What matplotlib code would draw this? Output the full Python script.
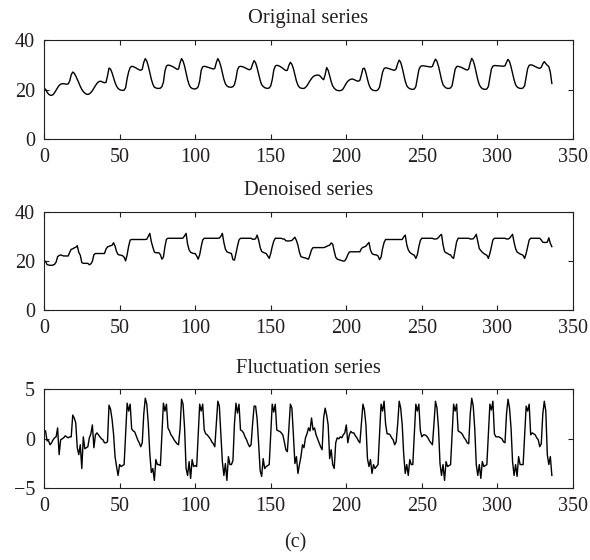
import numpy as np
import matplotlib
matplotlib.use('Agg')
import matplotlib.pyplot as plt

plt.rcParams['font.family'] = ['Liberation Serif', 'DejaVu Serif']

# hourly values, one row per day (14 days x 24 h)
original_days = [
    [20.2, 19.0, 18.2, 17.8, 17.7, 18.0, 18.8, 19.8, 20.8, 21.7, 22.2, 22.4, 22.4, 22.3, 22.2, 22.3, 23.5, 26.0, 27.1, 26.6, 25.5, 24.2, 22.8, 21.3],
    [20.1, 19.2, 18.6, 18.2, 18.1, 18.3, 18.8, 19.6, 20.6, 21.6, 22.5, 23.1, 23.4, 23.3, 23.0, 22.8, 22.9, 25.5, 28.7, 28.3, 26.8, 24.8, 22.9, 21.4],
    [20.5, 20.0, 19.8, 19.7, 19.8, 20.8, 24.5, 27.2, 28.9, 29.4, 29.3, 29.0, 28.7, 28.3, 28.0, 27.8, 28.2, 31.0, 32.5, 31.5, 29.5, 26.8, 24.2, 22.2],
    [21.0, 20.7, 20.5, 20.5, 20.6, 21.2, 23.0, 27.5, 29.5, 29.9, 29.8, 29.6, 29.3, 29.0, 28.6, 28.2, 28.3, 30.8, 32.5, 31.5, 29.5, 26.8, 24.0, 22.0],
    [20.9, 20.5, 20.3, 20.3, 20.5, 21.2, 23.5, 27.8, 29.2, 29.4, 29.3, 29.1, 28.9, 28.7, 28.5, 28.3, 28.6, 30.9, 32.5, 31.4, 29.4, 26.8, 24.2, 22.4],
    [21.5, 21.1, 21.0, 21.0, 21.2, 22.0, 24.5, 28.0, 29.2, 29.4, 29.3, 29.1, 28.8, 28.5, 28.2, 28.0, 28.4, 30.3, 31.7, 30.8, 28.8, 26.3, 23.8, 22.0],
    [21.3, 20.8, 20.6, 20.5, 20.7, 21.5, 24.0, 27.8, 29.5, 29.8, 29.7, 29.4, 29.0, 28.6, 28.1, 27.7, 27.8, 29.8, 31.0, 30.2, 28.5, 26.0, 23.5, 21.8],
    [20.9, 20.6, 20.5, 20.5, 20.9, 21.6, 22.6, 23.6, 24.5, 25.2, 25.6, 25.8, 25.9, 25.8, 25.3, 24.5, 24.0, 26.0, 28.9, 27.8, 25.6, 23.2, 21.5, 20.6],
    [20.0, 19.7, 19.6, 19.6, 19.8, 20.4, 21.5, 22.6, 23.4, 23.9, 24.2, 24.3, 24.1, 23.8, 23.5, 23.4, 23.8, 26.0, 28.5, 28.6, 26.8, 24.2, 22.0, 20.6],
    [20.0, 19.7, 19.6, 19.6, 20.0, 21.0, 24.0, 27.0, 28.5, 28.8, 28.7, 28.5, 28.3, 28.1, 27.9, 27.8, 28.4, 30.5, 31.9, 31.0, 28.8, 26.0, 23.4, 21.6],
    [20.8, 20.4, 20.2, 20.1, 20.3, 21.2, 24.5, 28.0, 29.3, 29.6, 29.6, 29.5, 29.4, 29.3, 29.2, 29.1, 29.4, 31.0, 32.3, 31.4, 29.4, 26.8, 24.0, 22.0],
    [21.2, 20.7, 20.5, 20.5, 20.7, 21.6, 24.8, 28.2, 29.3, 29.4, 29.2, 29.0, 28.7, 28.4, 28.1, 27.9, 28.3, 30.8, 32.6, 31.6, 29.5, 26.8, 24.0, 22.0],
    [21.0, 20.4, 20.2, 20.1, 20.3, 21.3, 24.8, 28.3, 29.5, 29.7, 29.7, 29.6, 29.6, 29.5, 29.5, 29.4, 29.6, 31.0, 32.2, 31.3, 29.2, 26.6, 24.0, 22.0],
    [21.1, 20.7, 20.5, 20.5, 20.7, 21.6, 25.0, 28.5, 29.8, 30.0, 29.9, 29.6, 29.3, 29.0, 28.7, 28.6, 29.0, 30.4, 31.3, 30.5, 29.8, 29.3, 27.0, 22.5],
]

denoised_days = [
    [19.8, 18.5, 18.3, 18.2, 18.2, 18.3, 18.6, 19.5, 21.7, 22.2, 22.4, 22.2, 22.0, 22.0, 22.0, 22.0, 23.5, 24.7, 24.9, 25.3, 25.5, 26.2, 23.5, 22.3],
    [19.3, 19.0, 19.0, 19.0, 19.0, 18.4, 18.8, 19.8, 22.5, 23.0, 23.0, 23.0, 23.0, 23.0, 23.0, 23.0, 24.8, 25.7, 25.9, 26.2, 26.3, 27.4, 26.0, 23.8],
    [22.6, 22.4, 22.3, 22.1, 21.5, 20.0, 22.5, 26.0, 28.5, 28.7, 28.7, 28.7, 28.7, 28.7, 28.7, 28.7, 28.7, 28.7, 28.7, 28.8, 30.0, 31.2, 27.8, 25.6],
    [23.6, 23.3, 23.3, 23.3, 22.5, 20.7, 21.5, 25.8, 28.8, 29.2, 29.2, 29.2, 29.2, 29.2, 29.2, 29.2, 29.2, 29.2, 29.2, 29.3, 30.2, 31.2, 26.8, 24.5],
    [23.5, 23.2, 23.0, 23.0, 22.0, 20.7, 22.5, 25.8, 28.5, 29.2, 29.2, 29.2, 29.2, 29.2, 29.2, 29.2, 29.2, 29.2, 29.2, 29.3, 30.0, 31.2, 27.5, 24.8],
    [23.7, 23.4, 23.2, 23.0, 20.5, 20.3, 23.0, 26.0, 28.5, 29.2, 29.2, 29.2, 29.2, 29.2, 29.2, 29.2, 29.2, 28.8, 28.8, 29.0, 30.5, 28.5, 25.5, 23.8],
    [23.5, 23.2, 23.0, 22.0, 21.0, 23.0, 25.8, 28.0, 29.2, 29.2, 29.2, 29.2, 29.2, 28.9, 28.9, 28.2, 28.1, 28.1, 28.2, 28.3, 29.0, 29.6, 28.3, 26.4],
    [23.5, 21.7, 21.5, 21.3, 21.2, 20.9, 20.7, 22.5, 24.5, 25.4, 25.4, 25.4, 25.4, 25.4, 25.4, 25.4, 25.4, 25.6, 25.9, 26.2, 26.4, 27.3, 26.8, 24.0],
    [21.5, 20.7, 20.5, 20.3, 20.1, 19.9, 20.0, 21.0, 22.5, 23.6, 23.7, 23.7, 23.7, 23.7, 23.7, 23.7, 23.7, 25.0, 25.5, 25.7, 26.0, 26.8, 27.5, 24.4],
    [23.0, 22.6, 22.5, 22.4, 22.0, 20.5, 21.5, 25.0, 27.5, 28.7, 28.7, 28.7, 28.7, 28.7, 28.7, 28.7, 28.7, 28.7, 28.7, 28.7, 28.7, 29.8, 30.5, 26.6],
    [24.5, 23.5, 23.0, 22.6, 22.3, 21.0, 22.5, 25.8, 28.3, 29.2, 29.2, 29.2, 29.2, 29.2, 29.2, 29.2, 29.2, 28.9, 28.9, 29.0, 29.5, 30.3, 30.8, 26.6],
    [23.8, 23.3, 23.0, 22.6, 22.4, 21.5, 21.0, 24.5, 27.8, 29.2, 29.2, 29.2, 29.2, 29.2, 29.2, 29.2, 29.2, 28.9, 28.9, 29.0, 29.8, 30.8, 27.8, 25.0],
    [24.2, 23.5, 23.0, 22.6, 22.3, 21.0, 23.0, 25.8, 28.5, 29.2, 29.2, 29.2, 29.2, 29.2, 29.2, 29.2, 29.2, 28.9, 28.9, 29.2, 30.0, 30.8, 27.6, 25.0],
    [23.6, 23.2, 22.8, 22.6, 22.2, 21.0, 23.0, 25.8, 28.5, 29.2, 29.2, 29.2, 29.2, 29.2, 29.2, 29.2, 28.5, 27.6, 27.5, 27.5, 27.6, 29.4, 27.1, 25.8],
]

fluctuation_days = [
    [0.8, -0.2, -0.2, -0.6, -0.4, -0.1, 0.1, 0.2, 1.1, -1.6, -0.1, 0.0, 0.1, 0.3, 0.2, 0.1, 0.2, 0.2, 2.4, 2.1, 1.6, -0.9, -1.6, -0.6],
    [-3.0, 0.2, -1.0, -0.9, -0.8, 0.1, 0.5, 1.4, -0.9, 0.4, 0.6, 0.4, 0.2, 0.0, -0.1, -0.4, -0.4, -0.3, 3.4, 3.0, 2.0, 0.5, -1.8, -2.8],
    [-3.7, -2.6, -2.8, -2.7, -2.6, 0.4, 3.6, 2.8, 3.5, 1.0, 0.8, 0.7, 0.3, -0.1, -0.4, -0.8, -0.4, 2.5, 4.1, 3.5, 1.5, -1.5, -3.4, -3.0],
    [-4.2, -2.1, -2.6, -2.6, -2.7, 0.4, 3.6, 2.8, 3.5, 1.1, 0.8, 0.4, 0.2, -0.1, -0.3, -0.5, -0.6, 1.0, 4.0, 3.5, 1.1, -3.0, -3.7, -2.3],
    [-4.0, -2.1, -2.8, -2.7, -2.8, 0.4, 3.5, 2.8, 3.5, 0.9, 0.5, 0.4, 0.2, 0.0, -0.3, -0.5, -0.8, 1.5, 3.8, 3.3, 0.5, -2.3, -3.7, -2.5],
    [-4.2, -1.8, -2.6, -2.6, -2.2, 1.5, 3.6, 2.6, 3.5, 0.9, 0.8, 0.6, 0.2, -0.1, -0.5, -0.8, -0.6, 1.5, 3.3, 3.3, 2.0, -0.5, -3.2, -3.8],
    [-2.0, -3.0, -2.8, -2.7, -2.6, 0.4, 3.5, 2.7, 3.5, 0.9, 0.8, 0.75, 0.6, 0.4, -0.3, -1.1, -1.3, 1.0, 3.5, 3.1, 0.4, -2.5, -1.8, -3.5],
    [-2.6, -1.8, -0.6, -0.9, 0.1, 0.5, 1.1, 0.8, 2.1, 0.9, 1.1, 0.4, 0.0, -0.4, -0.8, -1.1, 2.1, 3.1, 2.4, 1.4, -2.0, -1.1, -2.6, -3.0],
    [-0.4, 0.1, 0.0, 0.2, 0.1, 0.4, 0.6, 1.4, -0.4, 0.4, 0.75, 0.6, 0.6, 0.3, 0.1, -0.2, -0.4, 1.5, 3.5, 2.9, 1.4, -2.0, -2.8, -2.1],
    [-3.5, -2.6, -3.0, -2.8, -2.6, 0.4, 3.5, 2.8, 3.8, 1.5, 0.5, 0.5, 0.4, 0.1, -0.1, -0.6, -0.3, 1.5, 3.8, 3.1, 1.4, -1.6, -3.5, -2.6],
    [-3.7, -2.1, -2.6, -2.6, 0.4, 3.5, 2.8, 3.5, 0.8, 0.2, 0.4, 0.4, 0.3, 0.1, -0.2, -0.4, -0.6, 1.5, 3.8, 3.1, 1.1, -2.5, -3.7, -2.6],
    [-4.2, -2.3, -2.8, -2.7, -2.6, 0.4, 3.5, 2.8, 3.5, 0.8, 0.7, 0.6, 0.4, 0.1, -0.1, -0.4, -0.5, 2.5, 4.1, 3.3, 1.0, -2.6, -3.7, -2.6],
    [-4.0, -2.3, -2.8, -2.7, -2.6, 0.4, 3.5, 2.9, 3.8, 0.5, 0.2, 0.2, 0.2, 0.1, 0.0, -0.3, -0.4, 2.5, 4.0, 3.1, 1.1, -2.3, -3.7, -2.6],
    [-3.8, -1.8, -2.6, -2.6, -2.6, 0.4, 3.3, 2.8, 3.5, 0.4, 0.6, 0.5, 0.4, 0.1, -0.1, -0.8, -0.5, 2.5, 3.8, 2.8, -1.6, -2.6, -1.8, -3.7],
]

titles = ['Original series', 'Denoised series', 'Fluctuation series']
y_limits = [(0, 40), (0, 40), (-5, 5)]
y_ticks = [[0, 20, 40], [0, 20, 40], [-5, 0, 5]]
x_ticks = list(range(0, 351, 50))

hours = np.arange(1, 337)
series = [np.ravel(original_days), np.ravel(denoised_days), np.ravel(fluctuation_days)]

text_color = '#231f20'
fig = plt.figure(figsize=(5.9, 5.6), dpi=100)

# axes boxes in figure fractions (left, bottom, width, height)
boxes = [
    [0.0746, 0.7512, 0.8966, 0.1774],
    [0.0746, 0.4464, 0.8966, 0.1755],
    [0.0746, 0.1280, 0.8966, 0.1768],
]

for box, y, title, ylim, yt in zip(boxes, series, titles, y_limits, y_ticks):
    ax = fig.add_axes(box)
    ax.plot(hours, y, color='black', linewidth=1.0)
    ax.set_xlim(0, 350)
    ax.set_ylim(*ylim)
    ax.set_xticks(x_ticks)
    ax.set_yticks(yt)
    ax.tick_params(direction='in', top=True, right=True, length=3.5, width=0.8,
                   labelsize=14.5, pad=6.5, colors=text_color)
    for spine in ax.spines.values():
        spine.set_linewidth(0.8)
        spine.set_color('#231f20')
    ax.set_title(title, fontsize=14.8, pad=12, color=text_color)

fig.text(0.5, 1 - 543 / 560, '(c)', ha='center', va='center', fontsize=14.5, color=text_color)

fig.savefig('out.png', dpi=100)
